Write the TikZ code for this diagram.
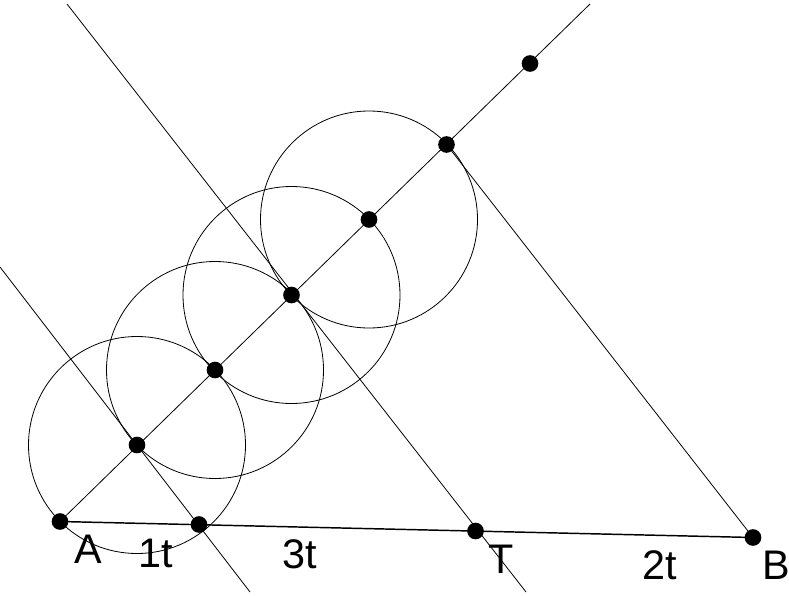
\documentclass[tikz,border=0pt]{standalone}
\usepackage{fontspec}
\setmainfont{Liberation Sans}
\begin{document}
\begin{tikzpicture}[x=0.75pt,y=-0.75pt,
  thinline/.style={line width=0.6pt,black},
  baseline/.style={line width=1.1pt,black},
  dot/.style={circle,fill=black,inner sep=0pt,minimum size=12.5pt},
  lbl/.style={font=\fontsize{31}{34}\selectfont,anchor=base,inner sep=0pt}]
\useasboundingbox (0,0) rectangle (789,596);
% points
\coordinate (A) at (60,521.5);
\coordinate (P1) at (137,445);
\coordinate (P2) at (215,370);
\coordinate (P3) at (291.5,295);
\coordinate (P4) at (369,219.5);
\coordinate (P5) at (446.5,144.5);
\coordinate (P6) at (530,63.5);
\coordinate (D) at (199,524.5);
\coordinate (T) at (475.5,531);
\coordinate (B) at (753,537.5);
\coordinate (R) at (590,4);
\coordinate (L1a) at (0,267);
\coordinate (L1b) at (250,592);
\coordinate (L2a) at (67,4);
\coordinate (L2b) at (526,592);
% circles
\foreach \c in {P1,P2,P3,P4} \draw[thinline] (\c) circle (108.5);
% lines
\draw[thinline] (A) -- (R);
\draw[thinline] (L1a) -- (L1b);
\draw[thinline] (L2a) -- (L2b);
\draw[thinline] (P5) -- (B);
\draw[baseline] (A) -- (B);
% dots
\foreach \p in {A,P1,P2,P3,P4,P5,P6,D,T,B} \node[dot] (n\p) at (\p) {};
% labels
\node[lbl] (lA) at (88.5,563) {A};
\node[lbl] (l1) at (155.5,567) {1t};
\node[lbl] (l3) at (300,568) {3t};
\node[lbl] (lT) at (501.5,573) {T};
\node[lbl] (l2) at (660,579) {2t};
\node[lbl] (lB) at (776,579) {B};
\end{tikzpicture}
\end{document}
